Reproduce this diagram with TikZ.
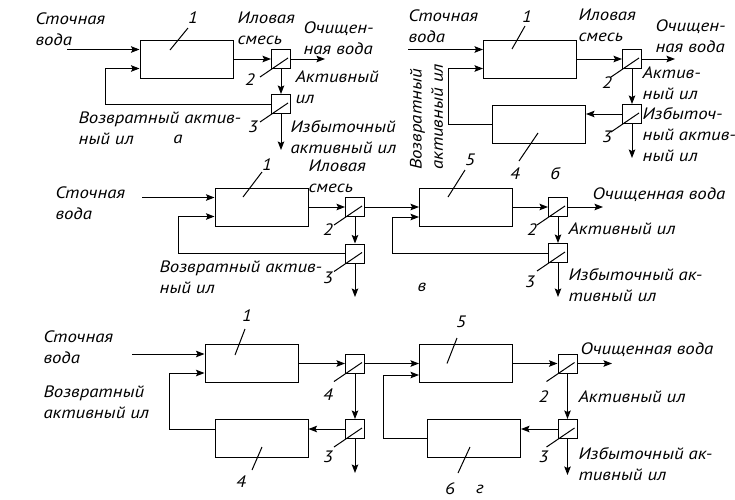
\documentclass[tikz,border=0pt]{standalone}
\usepackage{fontspec}
\setmainfont{PT Sans}[FakeStretch=1.14]
\usetikzlibrary{arrows.meta}

\begin{document}
\begin{tikzpicture}[x=1pt,y=-1pt,line width=1pt,
        tank/.style={draw,minimum width=93pt,minimum height=38pt,inner sep=0pt},
        sep/.style={draw,minimum size=19pt,inner sep=0pt},
        flow/.style={-{Stealth[length=8.5pt,width=6.5pt,inset=1.5pt]}},
        txt/.style={align=left,anchor=west,inner sep=0pt,font=\itshape\fontsize{16.5}{21}\selectfont},
        num/.style={inner sep=0pt,font=\itshape\fontsize{16.5}{21}\selectfont}]
        \useasboundingbox (0,0) rectangle (735,499);
        % a
        \node[tank] (a1) at (186.5,59) {};
        \node[sep] (a2) at (281,59) {};
        \node[sep] (a3) at (281,104) {};
        \coordinate (ain) at (67,49.5);
        \coordinate (aret) at (105,68.5);
        \coordinate (aout) at (325,59);
        \coordinate (aex) at (281,150);
        \draw[flow] (ain) -- (ain -| a1.west);
        \draw[flow] (a1) -- (a2);
        \draw[flow] (a2) -- (aout);
        \draw[flow] (a2) -- (a3);
        \draw[flow] (a3) -- (aex);
        \draw[flow] (a3) -| (aret) -- (aret -| a1.west);
        \node[txt] (a-in) at (35,29) {Сточная\\вода};
        \node[txt] (a-mix) at (237,28.5) {Иловая\\смесь};
        \node[txt] (a-out) at (303,38.5) {Очищен-\\ная вода};
        \node[txt] (a-act) at (295,87) {Активный\\ил};
        \node[txt] (a-ret) at (78,128) {Возвратный актив-\\ный ил};
        \node[txt] (a-ex) at (290,137) {Избыточный\\активный ил};
        \node[num] (a-tag) at (178,139) {а};
        \node[num] (a1-n) at (193,18) {1};
        \draw ([shift={(-16.5,-9)}]a1.center) -- ([shift={(-5,10)}]a1-n.center);
        % b
        \node[tank] (b1) at (530,59) {};
        \node[tank] (b4) at (539,124) {};
        \node[sep] (b2) at (632,59) {};
        \node[sep] (b3) at (632,114) {};
        \coordinate (bin) at (408,49.5);
        \coordinate (bret) at (448,68.5);
        \coordinate (bout) at (675,59);
        \coordinate (bex) at (632,158);
        \draw[flow] (bin) -- (bin -| b1.west);
        \draw[flow] (b1) -- (b2);
        \draw[flow] (b2) -- (bout);
        \draw[flow] (b2) -- (b3);
        \draw[flow] (b3) -- (bex);
        \draw[flow] (b3) -- (b3 -| b4.east);
        \draw[flow] (b4) -| (bret) -- (bret -| b1.west);
        \node[txt] (b-in) at (408,26) {Сточная\\вода};
        \node[txt] (b-mix) at (578,25) {Иловая\\смесь};
        \node[txt] (b-out) at (655,36) {Очищен-\\ная вода};
        \node[txt] (b-act) at (642,83) {Актив-\\ный ил};
        \node[txt] (b-ex) at (642,135) {Избыточ-\\ный актив-\\ный ил};
        \node[txt,anchor=center,rotate=90] (b-ret) at (426.5,117) {Возвратный\\активный ил};
        \node[num] (b-tag) at (555,174) {б};
        \node[num] (b1-n) at (527,17) {1};
        \node[num] (b4-n) at (515,174) {4};
        \draw ([shift={(-18,-10)}]b1.center) -- ([shift={(-2,9)}]b1-n.center);
        \draw ([shift={(-1,9)}]b4.center) -- ([shift={(4,-13)}]b4-n.center);
        % v
        \node[tank] (v1) at (261.5,207) {};
        \node[sep] (v2) at (355,207) {};
        \node[sep] (v3) at (355,253.5) {};
        \node[tank] (v5) at (466,207) {};
        \node[sep] (v6) at (558,207) {};
        \node[sep] (v7) at (558,253) {};
        \coordinate (vin) at (142,197.5);
        \coordinate (vret1) at (178,216.5);
        \coordinate (vret2) at (392,217);
        \coordinate (vout) at (603,207);
        \coordinate (vex1) at (355,297);
        \coordinate (vex2) at (558,297);
        \draw[flow] (vin) -- (vin -| v1.west);
        \draw[flow] (v1) -- (v2);
        \draw[flow] (v2) -- (v3);
        \draw[flow] (v3) -- (vex1);
        \draw[flow] (v3) -| (vret1) -- (vret1 -| v1.west);
        \draw[flow] (v2) -- (v5);
        \draw[flow] (v5) -- (v6);
        \draw[flow] (v6) -- (vout);
        \draw[flow] (v6) -- (v7);
        \draw[flow] (v7) -- (vex2);
        \draw[flow] (v7) -| (vret2) -- (vret2 -| v5.west);
        \node[txt] (v-in) at (55,203) {Сточная\\вода};
        \node[txt] (v-mix) at (308,176) {Иловая\\смесь};
        \node[txt] (v-ret) at (159,277) {Возвратный актив-\\ный ил};
        \node[txt] (v-out) at (592,195) {Очищенная вода};
        \node[txt] (v-act) at (568,229) {Активный ил};
        \node[txt] (v-ex) at (568,285) {Избыточный ак-\\тивный ил};
        \node[num] (v-tag) at (422,287) {в};
        \node[num] (v1-n) at (267,165) {1};
        \node[num] (v5-n) at (470,160) {5};
        \draw ([shift={(-18.5,-10)}]v1.center) -- ([shift={(-5,7)}]v1-n.center);
        \draw ([shift={(-18,-10)}]v5.center) -- ([shift={(-5,10)}]v5-n.center);
        % g
        \node[tank] (g1) at (251.5,363.5) {};
        \node[tank] (g4) at (261.5,438) {};
        \node[sep] (g2) at (355,363.5) {};
        \node[sep] (g3) at (355,429) {};
        \node[tank] (g5) at (466,363.5) {};
        \node[tank] (g6) at (474,438) {};
        \node[sep] (g7) at (567.5,363.5) {};
        \node[sep] (g8) at (567.5,429) {};
        \coordinate (gin) at (132,354);
        \coordinate (gret1) at (169,373);
        \coordinate (gret2) at (383,375);
        \coordinate (gout) at (612,363.5);
        \coordinate (gex1) at (355,473);
        \coordinate (gex2) at (567.5,475);
        \draw[flow] (gin) -- (gin -| g1.west);
        \draw[flow] (g1) -- (g2);
        \draw[flow] (g2) -- (g3);
        \draw[flow] (g3) -- (gex1);
        \draw[flow] (g3) -- (g3 -| g4.east);
        \draw[flow] ([yshift=9pt]g4.west) -| (gret1) -- (gret1 -| g1.west);
        \draw[flow] (g2) -- (g5);
        \draw[flow] (g5) -- (g7);
        \draw[flow] (g7) -- (gout);
        \draw[flow] (g7) -- (g8);
        \draw[flow] (g8) -- (gex2);
        \draw[flow] (g8) -- (g8 -| g6.east);
        \draw[flow] (g6) -| (gret2) -- (gret2 -| g5.west);
        \node[txt] (g-in) at (43,347) {Сточная\\вода};
        \node[txt] (g-ret) at (43,402.5) {Возвратный\\активный ил};
        \node[txt] (g-out) at (580,350) {Очищенная вода};
        \node[txt] (g-act) at (578,397) {Активный ил};
        \node[txt] (g-ex) at (578,464) {Избыточный ак-\\тивный ил};
        \node[num] (g-tag) at (480,489) {г};
        \node[num] (g1-n) at (247,316) {1};
        \node[num] (g4-n) at (241,482) {4};
        \node[num] (g5-n) at (461,322) {5};
        \node[num] (g6-n) at (450,489) {6};
        \draw ([shift={(-16.5,-8.5)}]g1.center) -- ([shift={(-2,13)}]g1-n.center);
        \draw ([shift={(0.5,9)}]g4.center) -- ([shift={(11,-12)}]g4-n.center);
        \draw ([shift={(-19,0)}]g5.center) -- ([shift={(-4,16)}]g5-n.center);
        \draw ([shift={(-4,9)}]g6.center) -- ([shift={(8,-16)}]g6-n.center);
        % separators
        \foreach \s/\t/\dx/\dy in {a2/2/-31/21, a3/3/-28/23, b2/2/-25/24, b3/3/-25/23,
                v2/2/-27/23, v3/3/-27/24, v6/2/-26/23, v7/3/-28/29,
                g2/4/-27/31, g3/3/-27/28, g7/2/-24/33, g8/3/-24/28} {
            \node[num] (\s-n) at ([shift={(\dx,\dy)}]\s.center) {\t};
            \draw ([shift={(-21,18)}]\s.center) -- ([shift={(7,-1)}]\s.center);
        }
    \end{tikzpicture}
\end{document}
